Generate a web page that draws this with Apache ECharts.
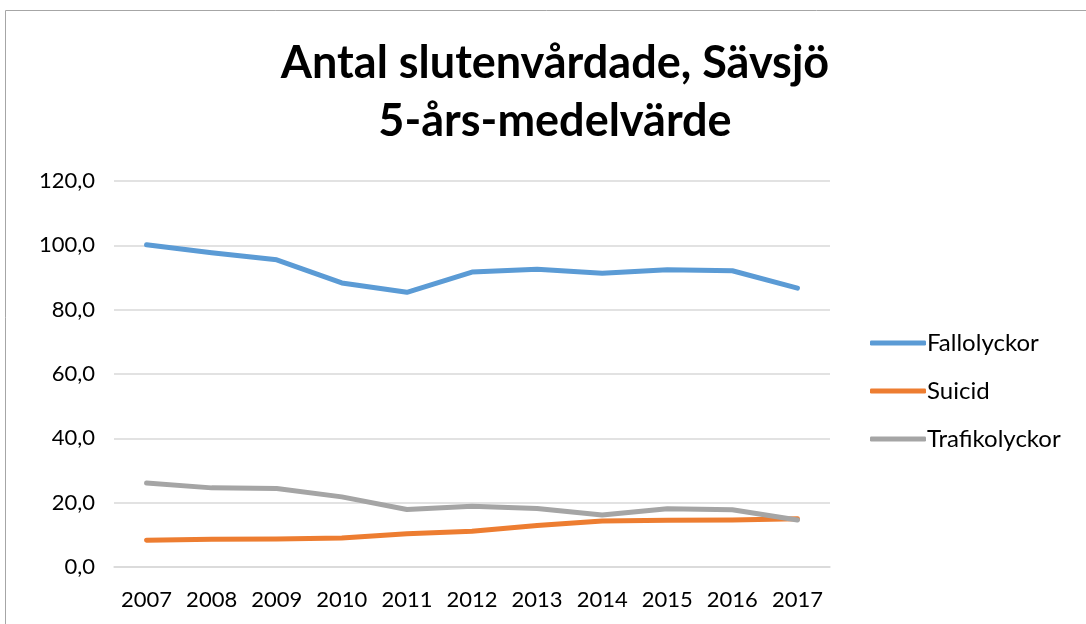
<!DOCTYPE html>
<html>
<head>
<meta charset="utf-8">
<script src="https://cdn.jsdelivr.net/npm/echarts@6/dist/echarts.min.js"></script>
<style>
  html, body { margin: 0; padding: 0; background: #fff; }
  #chart { width: 1086px; height: 624px; }
</style>
</head>
<body>
<div id="chart"></div>
<script>
// data
const years = ["2007", "2008", "2009", "2010", "2011", "2012", "2013", "2014", "2015", "2016", "2017"];
const fallolyckor = [100.2, 97.7, 95.5, 88.3, 85.4, 91.7, 92.6, 91.3, 92.4, 92.1, 86.7];
const suicid = [8.3, 8.6, 8.7, 9.0, 10.3, 11.1, 12.9, 14.3, 14.5, 14.6, 15.0];
const trafikolyckor = [26.1, 24.6, 24.4, 21.8, 17.9, 18.9, 18.2, 16.2, 18.1, 17.8, 14.6];

const colorList = ["#5B9BD5", "#ED7D31", "#A5A5A5"];
const font = "Lato, 'Open Sans', sans-serif";

const chart = echarts.init(document.getElementById("chart"));

function lineSeries(name, data, idx) {
  return {
    name: name,
    type: "line",
    data: data,
    showSymbol: false,
    symbol: "none",
    lineStyle: { width: 5, color: colorList[idx], cap: "round", join: "round" },
    itemStyle: { color: colorList[idx] },
  };
}

chart.setOption({
  animation: false,
  color: colorList,
  graphic: [
    {
      type: "rect",
      shape: { x: 5.5, y: 10.5, width: 1200, height: 800 },
      style: { fill: "none", stroke: "#a6a6a6", lineWidth: 1 },
      silent: true,
    },
  ],
  title: {
    text: "Antal slutenvårdade, Sävsjö\n5-års-medelvärde",
    left: 550,
    top: 29,
    textAlign: "center",
    textStyle: {
      fontFamily: font,
      fontWeight: "bold",
      fontSize: 45,
      lineHeight: 58,
      color: "#000",
    },
  },
  legend: {
    orient: "vertical",
    left: 865,
    top: 326,
    itemGap: 24,
    itemWidth: 56,
    itemHeight: 5,
    icon: "roundRect",
    textStyle: { fontFamily: font, fontSize: 24, color: "#000", padding: [0, 0, 0, -4] },
    data: ["Fallolyckor", "Suicid", "Trafikolyckor"],
  },
  grid: {
    left: 114,
    right: 256,
    top: 181,
    bottom: 57,
  },
  xAxis: {
    type: "category",
    data: years,
    boundaryGap: true,
    axisLine: { show: true, lineStyle: { color: "#d9d9d9", width: 1.5 } },
    axisTick: { show: false },
    axisLabel: { interval: 0, fontFamily: font, fontSize: 22, color: "#000", margin: 22 },
  },
  yAxis: {
    type: "value",
    min: 0,
    max: 120,
    interval: 20,
    axisLine: { show: false },
    axisTick: { show: false },
    splitLine: { lineStyle: { color: "#d9d9d9", width: 1.5 } },
    axisLabel: {
      fontFamily: font,
      fontSize: 22,
      color: "#000",
      margin: 19,
      formatter: (v) => v.toFixed(1).replace(".", ","),
    },
  },
  series: [
    lineSeries("Fallolyckor", fallolyckor, 0),
    lineSeries("Suicid", suicid, 1),
    lineSeries("Trafikolyckor", trafikolyckor, 2),
  ],
});
</script>
</body>
</html>
